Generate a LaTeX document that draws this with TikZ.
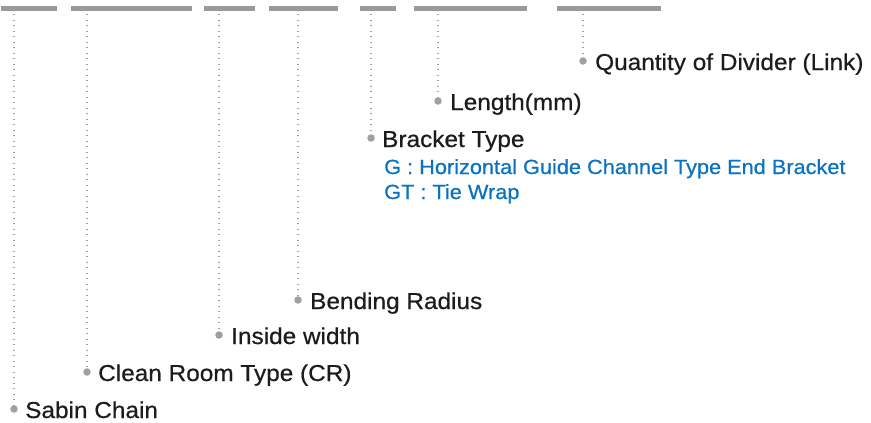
\documentclass[tikz,border=0pt]{standalone}
\usepackage{fontspec}
\setmainfont{Liberation Sans}[FakeStretch=1.06,FakeBold=0.6]
\definecolor{bargray}{HTML}{9A9A9A}
\definecolor{dotgray}{HTML}{A0A0A0}
\definecolor{txt}{HTML}{1C1C1C}
\definecolor{blu}{HTML}{0A72C0}
\begin{document}
\begin{tikzpicture}[x=1pt,y=-1pt,
  bar/.style={line width=5pt,draw=bargray},
  leader/.style={draw=dotgray,line width=1.3pt,dash pattern=on 1.3pt off 4.2pt},
  pin/.style={circle,fill=dotgray,inner sep=0pt,minimum size=7.5pt},
  lbl/.style={anchor=base west,inner sep=0pt,text=txt,font=\fontsize{23}{26}\selectfont},
  sub/.style={anchor=base west,inner sep=0pt,text=blu,font=\fontsize{20.5}{25}\selectfont}]
\useasboundingbox (0,0) rectangle (871,423);
% bars
\draw[bar] (1,8.5) -- (57,8.5);
\draw[bar] (71,8.5) -- (192,8.5);
\draw[bar] (204,8.5) -- (255,8.5);
\draw[bar] (269,8.5) -- (338,8.5);
\draw[bar] (360,8.5) -- (396,8.5);
\draw[bar] (414,8.5) -- (527,8.5);
\draw[bar] (557,8.5) -- (661,8.5);
% leader tops
\coordinate (t1) at (14,14);
\coordinate (t2) at (87,14);
\coordinate (t3) at (219,14);
\coordinate (t4) at (298,14);
\coordinate (t5) at (371,14);
\coordinate (t6) at (438,14);
\coordinate (t7) at (583,14);
% pins
\node[pin] (p1) at (14,409) {};
\node[pin] (p2) at (87,372) {};
\node[pin] (p3) at (219,335) {};
\node[pin] (p4) at (298,300) {};
\node[pin] (p5) at (371,138) {};
\node[pin] (p6) at (438,101) {};
\node[pin] (p7) at (583,61) {};
% leaders
\foreach \i in {1,...,7} \draw[leader] (t\i) -- (p\i.north);
% labels
\node[lbl] (l1) at (25,418) {Sabin Chain};
\node[lbl] (l2) at (98,381) {Clean Room Type (CR)};
\node[lbl] (l3) at (231,344) {Inside width};
\node[lbl] (l4) at (310,309) {Bending Radius};
\node[lbl] (l5) at (382,147) {Bracket Type};
\node[lbl] (l6) at (450,110) {Length(mm)};
\node[lbl] (l7) at (595,70) {Quantity of Divider (Link)};
\node[sub] (s1) at (384,174) {G : Horizontal Guide Channel Type End Bracket};
\node[sub] (s2) at (384,199) {GT : Tie Wrap};
\end{tikzpicture}
\end{document}
